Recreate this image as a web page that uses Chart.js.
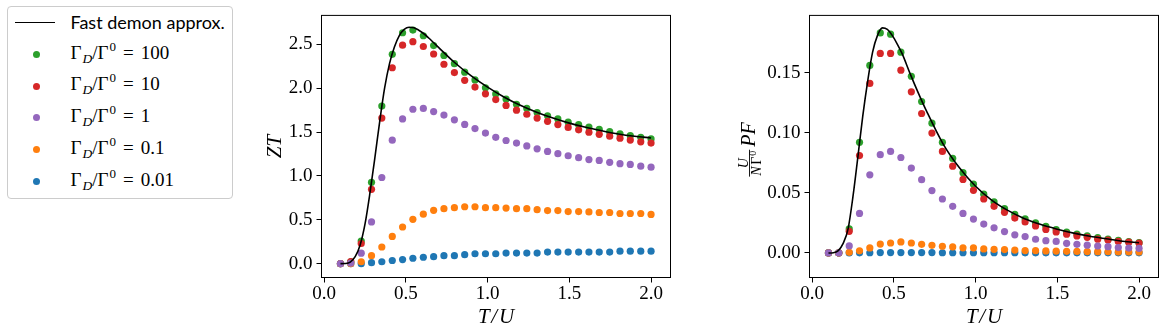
<!DOCTYPE html>
<html>
<head>
<meta charset="utf-8">
<script src="https://cdn.jsdelivr.net/npm/chart.js@4.4.1/dist/chart.umd.min.js"></script>
<style>
  html, body { margin: 0; padding: 0; background: #fff; }
  #wrap { position: relative; width: 1165px; height: 334px; overflow: hidden; background: #fff; }
  canvas { position: absolute; top: 0; }
  #legend { position: absolute; left: 7px; top: 6px; width: 226px; height: 193px; box-sizing: border-box;
            border: 1px solid #cccccc; border-radius: 4px; background: #fff; }
  .lrow { position: absolute; white-space: nowrap; color: #000; }
  .sans { font-family: Lato, "DejaVu Sans", sans-serif; font-size: 18px; line-height: 18px; }
  .math { font-family: "Liberation Serif", serif; font-size: 19px; line-height: 19px; }
  .math .sub { font-style: italic; font-size: 13.5px; position: relative; top: 4px; margin-left: 1px; }
  .math .sup { font-size: 13px; position: relative; top: -8px; margin-left: 1px; }
  .math .eq { margin: 0 7px; }
  .dot { position: absolute; width: 7px; height: 7px; border-radius: 50%; }
  .hline { position: absolute; height: 0; border-top: 1.6px solid #000; }
</style>
</head>
<body>
<div id="wrap">
  <div id="legend"></div>
  <canvas id="c1" width="430" height="334" style="left:250px;width:430px;height:334px"></canvas>
  <canvas id="c2" width="435" height="334" style="left:730px;width:435px;height:334px"></canvas>
</div>
<script>
// ---------------- data ----------------
const xVals = [0.1, 0.163, 0.227, 0.29, 0.353, 0.417, 0.48, 0.543, 0.607, 0.67, 0.733, 0.797, 0.86, 0.923, 0.987,
               1.05, 1.113, 1.177, 1.24, 1.303, 1.367, 1.43, 1.493, 1.557, 1.62, 1.683, 1.747, 1.81, 1.873, 1.937, 2.0];

const seriesLabels = ['100', '10', '1', '0.1', '0.01'];
const seriesColors = ['#2ca02c', '#d62728', '#9467bd', '#ff7f0e', '#1f77b4'];
const lineLabel = 'Fast demon approx.';

// ZT panel
const zt100 = [0, 0.02, 0.257, 0.927, 1.796, 2.386, 2.632, 2.662, 2.598, 2.486, 2.374, 2.28, 2.183, 2.094, 2.005,
               1.935, 1.877, 1.817, 1.77, 1.723, 1.686, 1.65, 1.613, 1.584, 1.558, 1.532, 1.505, 1.48, 1.459, 1.44, 1.422];
const zt10 = [0, 0.025, 0.23, 0.847, 1.66, 2.233, 2.49, 2.53, 2.475, 2.39, 2.273, 2.178, 2.09, 2.013, 1.936,
              1.87, 1.804, 1.749, 1.703, 1.66, 1.622, 1.585, 1.553, 1.525, 1.498, 1.474, 1.453, 1.43, 1.409, 1.389, 1.375];
const zt1 = [0, 0.007, 0.12, 0.476, 0.982, 1.408, 1.65, 1.76, 1.77, 1.734, 1.694, 1.639, 1.587, 1.54, 1.488,
             1.44, 1.404, 1.375, 1.342, 1.309, 1.279, 1.254, 1.23, 1.208, 1.186, 1.177, 1.155, 1.14, 1.131, 1.111, 1.1];
const zt01 = [0, 0, 0.022, 0.091, 0.19, 0.311, 0.418, 0.506, 0.564, 0.608, 0.627, 0.638, 0.649, 0.649, 0.638,
              0.638, 0.634, 0.627, 0.627, 0.616, 0.605, 0.605, 0.594, 0.594, 0.59, 0.583, 0.583, 0.572, 0.572, 0.572, 0.561];
const zt001 = [0, 0, 0, 0.011, 0.022, 0.036, 0.047, 0.062, 0.073, 0.08, 0.091, 0.091, 0.102, 0.113, 0.113,
               0.113, 0.121, 0.121, 0.121, 0.121, 0.132, 0.132, 0.132, 0.132, 0.132, 0.132, 0.132, 0.143, 0.143, 0.143, 0.143];

// PF panel
const pf100 = [0, 0, 0.02, 0.092, 0.156, 0.183, 0.182, 0.167, 0.147, 0.126, 0.108, 0.092, 0.0786, 0.0668, 0.0572,
               0.0489, 0.0425, 0.0369, 0.0321, 0.0283, 0.0251, 0.0222, 0.0195, 0.0174, 0.0158, 0.0142, 0.0128, 0.0115, 0.0104, 0.0094, 0.0086];
const pf10 = [0, 0, 0.018, 0.081, 0.141, 0.166, 0.166, 0.152, 0.134, 0.116, 0.0997, 0.0845, 0.0722, 0.0612, 0.0521,
              0.0449, 0.0388, 0.0338, 0.029, 0.0258, 0.0225, 0.0196, 0.0175, 0.0156, 0.0142, 0.013, 0.0115, 0.0107, 0.0096, 0.009, 0.0082];
const pf1 = [0, 0, 0.0059, 0.0329, 0.065, 0.0818, 0.0845, 0.0794, 0.0706, 0.061, 0.0519, 0.0449, 0.0388, 0.0329, 0.0282,
             0.024, 0.0209, 0.0178, 0.0151, 0.0136, 0.0114, 0.0102, 0.0096, 0.008, 0.0072, 0.0065, 0.0058, 0.0052, 0.0045, 0.0041, 0.0039];
const pf01 = [0, 0, 0.0005, 0.0018, 0.0042, 0.0074, 0.0083, 0.0092, 0.0083, 0.0072, 0.0064, 0.0056, 0.005, 0.0043, 0.0043,
              0.0034, 0.003, 0.0028, 0.0024, 0.002, 0.0019, 0.0017, 0.0016, 0.0014, 0.0013, 0.0012, 0.0011, 0.001, 0.0009, 0.0009, 0.0008];
const pf001 = [0, 0, 0, 0.0001, 0.0002, 0.0003, 0.0003, 0.0003, 0.0003, 0.0003, 0.0003, 0.0002, 0.0002, 0.0002, 0.0002,
               0.0002, 0.0002, 0.0002, 0.0002, 0.0001, 0.0001, 0.0001, 0.0001, 0.0001, 0.0001, 0.0001, 0.0001, 0.0001, 0.0001, 0.0001, 0.0001];

// Fast demon approximation curves
const lineX = [0.1, 0.13, 0.16, 0.19, 0.22, 0.25, 0.28, 0.31, 0.34, 0.37, 0.40, 0.43, 0.46, 0.49, 0.52, 0.55,
               0.6, 0.65, 0.7, 0.8, 0.9, 1.0, 1.1, 1.2, 1.3, 1.4, 1.5, 1.6, 1.7, 1.8, 1.9, 2.0];
const ztLine = [0, 0.002, 0.018, 0.08, 0.21, 0.45, 0.8, 1.2, 1.62, 2.0, 2.28, 2.47, 2.6, 2.67, 2.695, 2.688,
                2.635, 2.555, 2.465, 2.29, 2.14, 2.012, 1.9, 1.805, 1.727, 1.66, 1.602, 1.554, 1.514, 1.478, 1.452, 1.433];
const pfLine = [0, 0.0002, 0.002, 0.008, 0.02, 0.047, 0.08, 0.114, 0.143, 0.167, 0.181, 0.1872, 0.186, 0.181, 0.174, 0.166,
                0.149, 0.133, 0.118, 0.091, 0.071, 0.0555, 0.0438, 0.0352, 0.0285, 0.0236, 0.0198, 0.0165, 0.0139, 0.0118, 0.0098, 0.0085];

// ticks
const xTicks = [0.0, 0.5, 1.0, 1.5, 2.0];
const ztTicks = [0.0, 0.5, 1.0, 1.5, 2.0, 2.5];
const pfTicks = [0.00, 0.05, 0.10, 0.15];

// ---------------- helpers ----------------
const SERIF = '"Liberation Serif", "DejaVu Serif", serif';
const drawOrder = [5, 4, 1, 2, 3]; // green bottom ... purple top, line above all

function buildDatasets(seriesArr, lineY) {
  const ds = [{
    label: lineLabel,
    data: lineX.map((x, i) => ({x: x, y: lineY[i]})),
    showLine: true, borderColor: '#000', borderWidth: 1.6, pointRadius: 0, pointHoverRadius: 0,
    cubicInterpolationMode: 'monotone', fill: false, order: 0
  }];
  seriesArr.forEach((vals, k) => {
    ds.push({
      label: '\u0393D/\u03930 = ' + seriesLabels[k],
      data: xVals.map((x, i) => ({x: x, y: vals[i]})),
      showLine: false, pointRadius: 3.6, pointHoverRadius: 3.6, pointBorderWidth: 0,
      pointBackgroundColor: seriesColors[k], backgroundColor: seriesColors[k], borderColor: seriesColors[k],
      order: drawOrder[k]
    });
  });
  return ds;
}

const framePlugin = {
  id: 'frame',
  afterDraw(chart) {
    const a = chart.chartArea, ctx = chart.ctx;
    ctx.save();
    ctx.strokeStyle = '#000';
    ctx.lineWidth = 1;
    ctx.strokeRect(a.left, a.top, a.right - a.left, a.bottom - a.top);
    ctx.restore();
  }
};

function makeOptions(cfg) {
  return {
    responsive: false, animation: false, devicePixelRatio: 1,
    layout: { padding: { left: 0, right: cfg.padRight, top: 6.5, bottom: 0 } },
    plugins: { legend: { display: false }, tooltip: { enabled: false } },
    events: [],
    scales: {
      x: {
        type: 'linear', min: -0.016, max: 2.119,
        afterBuildTicks(scale) { scale.ticks = xTicks.map(v => ({value: v})); },
        afterFit(scale) { scale.height = 56.5; },
        ticks: { color: '#000', padding: 0, maxRotation: 0, autoSkip: false,
                 font: { family: SERIF, size: 19 }, callback: v => Number(v).toFixed(1) },
        grid: { drawOnChartArea: false, drawTicks: true, tickLength: 5, color: '#000', lineWidth: 1 },
        border: { display: false },
        title: { display: true, text: 'T\u200A/\u200AU', color: '#000',
                 font: { family: SERIF, size: 21, style: 'italic' }, padding: { top: 0, bottom: 4 } }
      },
      y: {
        type: 'linear', min: cfg.ymin, max: cfg.ymax,
        afterBuildTicks(scale) { scale.ticks = cfg.yTicks.map(v => ({value: v})); },
        afterFit(scale) { scale.width = cfg.yWidth; },
        ticks: { color: '#000', padding: 4, autoSkip: false,
                 font: { family: SERIF, size: 19 }, callback: v => Number(v).toFixed(cfg.dec) },
        grid: { drawOnChartArea: false, drawTicks: true, tickLength: 5, color: '#000', lineWidth: 1 },
        border: { display: false },
        title: cfg.yTitle
      }
    }
  };
}

// ---------------- ZT chart ----------------
new Chart(document.getElementById('c1'), {
  type: 'scatter',
  data: { datasets: buildDatasets([zt100, zt10, zt1, zt01, zt001], ztLine) },
  options: makeOptions({
    padRight: 9.5, ymin: -0.1576, ymax: 2.8297, yTicks: ztTicks, dec: 1, yWidth: 71.5,
    yTitle: { display: true, text: 'ZT', color: '#000', font: { family: SERIF, size: 21, style: 'italic' },
              padding: { top: 13, bottom: 0 } }
  }),
  plugins: [framePlugin]
});

// ---------------- PF chart ----------------
const pfLabelPlugin = {
  id: 'pfLabel',
  afterDraw(chart) {
    const ctx = chart.ctx;
    const a = chart.chartArea;
    const cy = (a.top + a.bottom) / 2;
    ctx.save();
    ctx.translate(0, cy);
    ctx.rotate(-Math.PI / 2);
    ctx.fillStyle = '#000';
    ctx.strokeStyle = '#000';
    ctx.textBaseline = 'alphabetic';
    ctx.textAlign = 'left';
    // in rotated frame: x' goes up the screen, y' = canvas x
    const fN = 'italic 14px ' + SERIF, fR = '14px ' + SERIF, fS = '10px ' + SERIF, fPF = 'italic 20px ' + SERIF;
    ctx.font = fN; const wU = ctx.measureText('U').width; const wN = ctx.measureText('N').width;
    ctx.font = fR; const wG = ctx.measureText('\u0393').width;
    ctx.font = fS; const w0 = ctx.measureText('0').width;
    const denW = wN + 1.5 + wG + 1 + w0;
    const fracW = Math.max(wU, denW) + 2;
    ctx.font = fPF; const wPF = ctx.measureText('PF').width;
    const gap = 3;
    const total = fracW + gap + wPF;
    const x0 = -total / 2 - 3;
    const barY = 19.5;
    // numerator
    ctx.font = fN; ctx.fillText('U', x0 + (fracW - wU) / 2, barY - 2);
    // bar
    ctx.lineWidth = 0.9;
    ctx.beginPath(); ctx.moveTo(x0, barY); ctx.lineTo(x0 + fracW, barY); ctx.stroke();
    // denominator
    let dx = x0 + (fracW - denW) / 2;
    const denBase = barY + 11.5;
    ctx.font = fN; ctx.fillText('N', dx, denBase); dx += wN + 1.5;
    ctx.font = fR; ctx.fillText('\u0393', dx, denBase); dx += wG + 1;
    ctx.font = fS; ctx.fillText('0', dx, denBase - 5);
    // PF
    ctx.font = fPF; ctx.fillText('PF', x0 + fracW + gap, barY + 5);
    ctx.restore();
  }
};

new Chart(document.getElementById('c2'), {
  type: 'scatter',
  data: { datasets: buildDatasets([pf100, pf10, pf1, pf01, pf001], pfLine) },
  options: makeOptions({
    padRight: 6.5, ymin: -0.0204, ymax: 0.1976, yTicks: pfTicks, dec: 2, yWidth: 79.5,
    yTitle: { display: false }
  }),
  plugins: [framePlugin, pfLabelPlugin]
});

// ---------------- legend (HTML) ----------------
(function buildLegend() {
  const wrap = document.getElementById('wrap');
  const rowY0 = 22.7, rowStep = 31.75, textX = 70.5;
  const hl = document.createElement('div');
  hl.className = 'hline';
  hl.style.left = '15px'; hl.style.width = '40px'; hl.style.top = (rowY0 - 0.8) + 'px';
  wrap.appendChild(hl);
  const t0 = document.createElement('div');
  t0.className = 'lrow sans';
  t0.textContent = lineLabel;
  t0.style.left = textX + 'px'; t0.style.top = (rowY0 + 6.6 - 16) + 'px';
  wrap.appendChild(t0);
  seriesLabels.forEach((lab, k) => {
    const y = rowY0 + rowStep * (k + 1);
    const d = document.createElement('div');
    d.className = 'dot';
    d.style.background = seriesColors[k];
    d.style.left = (36 - 3.5) + 'px'; d.style.top = (y - 3.5) + 'px';
    wrap.appendChild(d);
    const t = document.createElement('div');
    t.className = 'lrow math';
    t.innerHTML = '<span>\u0393</span><span class="sub">D</span><span>/\u0393</span><span class="sup">0</span>' +
                  '<span class="eq">=</span><span>' + lab + '</span>';
    t.style.left = textX + 'px'; t.style.top = (y + 4.2 - 16) + 'px';
    wrap.appendChild(t);
  });
})();
</script>
</body>
</html>
